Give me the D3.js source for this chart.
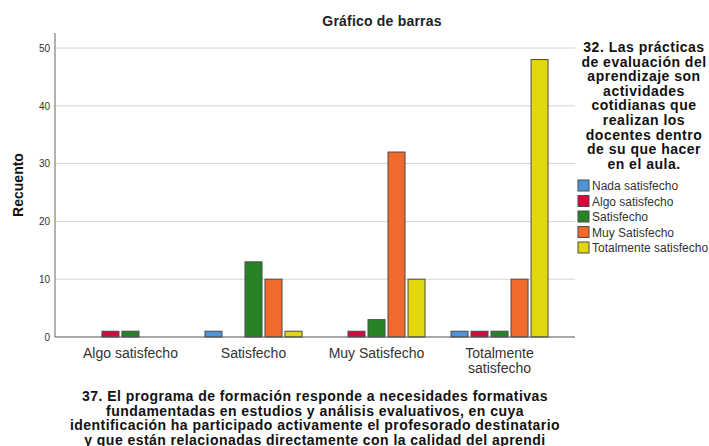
<!DOCTYPE html>
<html>
<head>
<meta charset="utf-8">
<script src="https://cdn.jsdelivr.net/npm/d3@7"></script>
<style>
body{margin:0;background:#fff;}
text{font-family:Arial,"Liberation Sans",sans-serif;}
</style>
</head>
<body>
<svg id="svg_canvas" width="709" height="446"></svg>
<script>
// categories on the x axis
var categories=["Algo satisfecho","Satisfecho","Muy Satisfecho","Totalmente satisfecho"];
var category_lines=[["Algo satisfecho"],["Satisfecho"],["Muy Satisfecho"],["Totalmente","satisfecho"]];
// legend series (question 32)
var series=["Nada satisfecho","Algo satisfecho","Satisfecho","Muy Satisfecho","Totalmente satisfecho"];
var series_colors=["#4f94db","#d6083d","#268426","#f26a2b","#e2d60f"];
// counts, one array per series, in category order
var nada_satisfecho=[0,1,0,1];
var algo_satisfecho=[1,0,1,1];
var satisfecho=[1,13,3,1];
var muy_satisfecho=[0,10,32,10];
var totalmente_satisfecho=[0,1,10,48];
var y_ticks=[0,10,20,30,40,50];

var legend_title=["32. Las prácticas","de evaluación del","aprendizaje son","actividades","cotidianas que","realizan los","docentes dentro","de su que hacer","en el aula."];
var x_title=["37. El programa de formación responde a necesidades formativas","fundamentadas en estudios y análisis evaluativos, en cuya","identificación ha participado activamente el profesorado destinatario","y que están relacionadas directamente con la calidad del aprendi"];

var series_values=[nada_satisfecho,algo_satisfecho,satisfecho,muy_satisfecho,totalmente_satisfecho];

var left_x=55, right_x=575, top_y=33, base_y=337;

var svg=d3.select("#svg_canvas");

var x0=d3.scaleBand().domain(categories).range([left_x,right_x]).paddingInner(0.203).paddingOuter(0.215);
var x1=d3.scaleBand().domain(series).range([0,x0.bandwidth()]).paddingInner(0.1).paddingOuter(0);
var y=d3.scaleLinear().domain([0,50]).range([base_y,48]);

// title
svg.append("text").attr("x",382).attr("y",26).attr("text-anchor","middle")
	.attr("font-size",14).attr("font-weight","bold").attr("letter-spacing",0.2).attr("fill","#222").text("Gráfico de barras");

// gridlines
svg.append("g").selectAll("line").data(y_ticks.filter(function(d){return d>0;})).enter().append("line")
	.attr("x1",left_x).attr("x2",right_x)
	.attr("y1",function(d){return y(d);}).attr("y2",function(d){return y(d);})
	.attr("stroke","#d4d4d4").attr("stroke-width",1);

// y axis
var yaxis=svg.append("g").attr("transform","translate("+left_x+",0)")
	.call(d3.axisLeft(y).tickValues(y_ticks).tickSize(0).tickPadding(5));
yaxis.select(".domain").remove();
yaxis.selectAll("text").attr("font-size",10).attr("fill","#333").style("font-family","Arial,'Liberation Sans',sans-serif");
svg.append("line").attr("x1",left_x).attr("x2",left_x).attr("y1",top_y).attr("y2",base_y)
	.attr("stroke","#999").attr("stroke-width",1.5);

// bars
var groups=svg.append("g").selectAll("g").data(categories).enter().append("g")
	.attr("transform",function(d){return "translate("+x0(d)+",0)";});
groups.selectAll("rect").data(function(d,ci){
		return series.map(function(s,si){return {series:s,value:series_values[si][ci],color:series_colors[si]};})
			.filter(function(e){return e.value>0;});
	}).enter().append("rect")
	.attr("x",function(d){return x1(d.series)+0.5;})
	.attr("width",x1.bandwidth()-1)
	.attr("y",function(d){return y(d.value);})
	.attr("height",function(d){return base_y-y(d.value);})
	.attr("fill",function(d){return d.color;})
	.attr("stroke","#4a4a4a").attr("stroke-width",1);

// baseline
svg.append("line").attr("x1",left_x).attr("x2",right_x).attr("y1",base_y).attr("y2",base_y)
	.attr("stroke","#555").attr("stroke-width",1.2);

// x labels
categories.forEach(function(c,i){
	var t=svg.append("text").attr("text-anchor","middle").attr("font-size",14).attr("fill","#333");
	category_lines[i].forEach(function(line,j){
		t.append("tspan").attr("x",x0(c)+x0.bandwidth()/2).attr("y",358+j*15).text(line);
	});
});

// x title
var xt=svg.append("text").attr("text-anchor","middle").attr("font-size",14).attr("font-weight","bold")
	.attr("letter-spacing",0.45).attr("fill","#111");
x_title.forEach(function(line,j){
	xt.append("tspan").attr("x",(left_x+right_x)/2).attr("y",401+j*14.5).text(line);
});

// y title
svg.append("text").attr("transform","translate(23,185) rotate(-90)").attr("text-anchor","middle")
	.attr("font-size",14).attr("font-weight","bold").attr("fill","#111").text("Recuento");

// legend title
var lt=svg.append("text").attr("text-anchor","middle").attr("font-size",14).attr("font-weight","bold")
	.attr("letter-spacing",0.5).attr("fill","#111");
legend_title.forEach(function(line,j){
	lt.append("tspan").attr("x",644).attr("y",52+j*14.6).text(line);
});

// legend items
var legend=svg.append("g").selectAll("g").data(series).enter().append("g")
	.attr("transform",function(d,i){return "translate(578,"+(180+i*15.5)+")";});
legend.append("rect").attr("width",11).attr("height",11)
	.attr("fill",function(d,i){return series_colors[i];}).attr("stroke","#4a4a4a").attr("stroke-width",1);
legend.append("text").attr("x",14).attr("y",10).attr("font-size",12).attr("fill","#333").text(function(d){return d;});
</script>
</body>
</html>
